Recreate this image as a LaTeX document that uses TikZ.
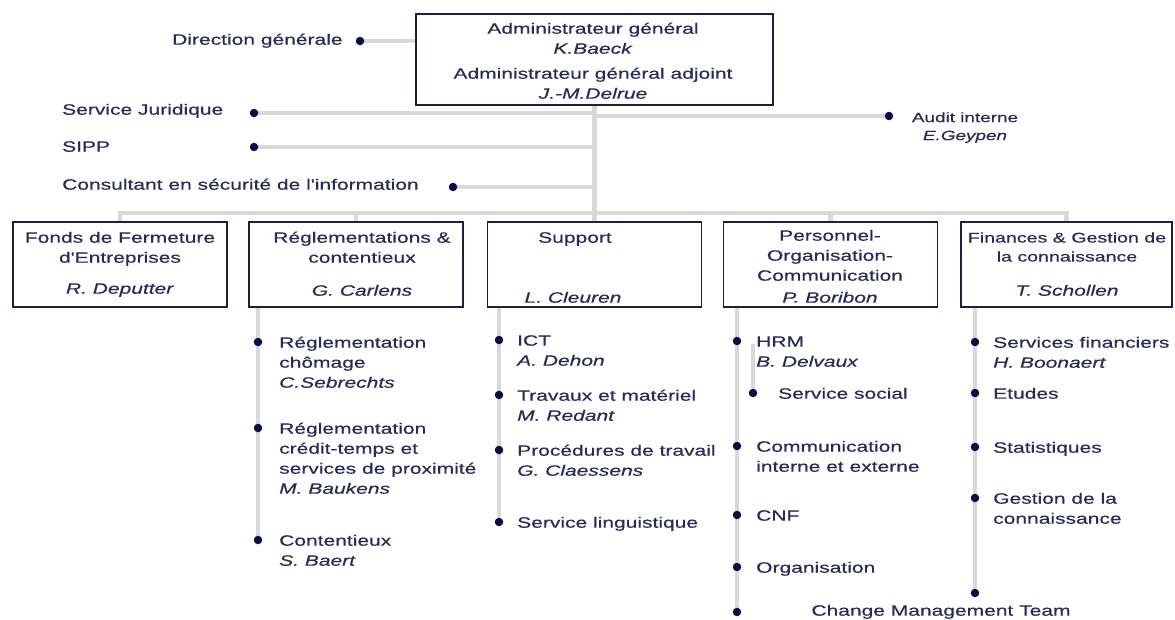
\documentclass[tikz,border=0pt]{standalone}
\usepackage{fontspec}
\setmainfont{Liberation Sans}[FakeStretch=1.4, FakeBold=0.5, Ligatures=TeXOff]
\usetikzlibrary{backgrounds}
\definecolor{txtc}{HTML}{2A2A55}
\definecolor{dotc}{HTML}{0B0B45}
\definecolor{linec}{HTML}{D9D9D9}
\definecolor{boxc}{HTML}{1E1E40}
\newcommand\mysize{\fontsize{15}{20}\selectfont}
\newcommand\mysmall{\fontsize{13.5}{18}\selectfont}
\newcommand\myboxsize{\fontsize{14}{19}\selectfont}
\begin{document}
\begin{tikzpicture}[x=1pt,y=-1pt,
  txt/.style={font=\mysize, text=txtc, inner sep=0pt, anchor=north west, align=left},
  ctxt/.style={font=\mysize, text=txtc, inner sep=0pt, anchor=north, align=center},
  dot/.style={circle, fill=dotc, inner sep=0pt, minimum size=8.5pt},
  conn/.style={draw=linec, line width=4.5pt},
  box/.style={draw=boxc, line width=1.5pt, inner sep=0pt, minimum height=85pt}]
\useasboundingbox (0,0) rectangle (1175,619);

% top box
\node[draw=boxc, line width=1.5pt, inner sep=0pt, minimum width=357pt, minimum height=91pt] (top) at (594.5,59.5) {};
\node[ctxt] (adm) at (593,19.5) {\strut Administrateur général\\\textit{K.Baeck}};
\node[ctxt] (adj) at (593,64.5) {\strut Administrateur général adjoint\\\textit{J.-M.Delrue}};
\coordinate (bus) at (594.5,213);

% staff labels
\node[txt] (lDG) at (172,30.5) {\strut Direction générale};
\node[dot] (dDG) at (360,41) {};
\node[txt] (lSJ) at (62,100.5) {\strut Service Juridique};
\node[dot] (dSJ) at (254,113) {};
\node[txt] (lSIPP) at (62,137.5) {\strut SIPP};
\node[dot] (dSIPP) at (254,147) {};
\node[txt] (lCS) at (62,175.5) {\strut Consultant en sécurité de l'information};
\node[dot] (dCS) at (453,187) {};
\node[dot] (dAud) at (889,116) {};
\node[ctxt, font=\mysmall] (lAud) at (965,109.3) {\strut Audit interne\\\textit{E.Geypen}};

% department boxes
\node[box, minimum width=214pt] (b1) at (120,264.5) {};
\node[box, minimum width=214pt] (b2) at (356,264.5) {};
\node[box, minimum width=214pt] (b3) at (594.5,264.5) {};
\node[box, minimum width=214pt] (b4) at (830.5,264.5) {};
\node[box, minimum width=211pt] (b5) at (1066.5,264.5) {};

\node[ctxt] (t1) at (120,228.5) {\strut Fonds de Fermeture\\d'Entreprises};
\node[ctxt] (n1) at (120,279.5) {\strut\textit{R. Deputter}};
\node[ctxt] (t2) at (362,228.5) {\strut Réglementations \&\\contentieux};
\node[ctxt] (n2) at (362,281.5) {\strut\textit{G. Carlens}};
\node[ctxt] (t3) at (575,228.5) {\strut Support};
\node[ctxt] (n3) at (573,288.5) {\strut\textit{L. Cleuren}};
\node[ctxt] (t4) at (830,226.5) {\strut Personnel-\\Organisation-\\Communication};
\node[ctxt] (n4) at (830,288.5) {\strut\textit{P. Boribon}};
\node[ctxt, font=\myboxsize] (t5) at (1067,229) {\strut Finances \& Gestion de\\la connaissance};
\node[ctxt] (n5) at (1067,281.5) {\strut\textit{T. Schollen}};

% column 2
\node[dot] (d21) at (258,342) {};
\node[dot] (d22) at (258,428) {};
\node[dot] (d23) at (258,540) {};
\node[txt] (i21) at (279,333.5) {\strut Réglementation\\chômage\\\textit{C.Sebrechts}};
\node[txt] (i22) at (279,419.5) {\strut Réglementation\\crédit-temps et\\services de proximité\\\textit{M. Baukens}};
\node[txt] (i23) at (279,531.5) {\strut Contentieux\\\textit{S. Baert}};

% column 3
\node[dot] (d31) at (499,340) {};
\node[dot] (d32) at (499,395) {};
\node[dot] (d33) at (499,450) {};
\node[dot] (d34) at (499,522) {};
\node[txt] (i31) at (517,331.5) {\strut ICT\\\textit{A. Dehon}};
\node[txt] (i32) at (517,386.5) {\strut Travaux et matériel\\\textit{M. Redant}};
\node[txt] (i33) at (517,441.5) {\strut Procédures de travail\\\textit{G. Claessens}};
\node[txt] (i34) at (517,513.5) {\strut Service linguistique};

% column 4
\node[dot] (d41) at (737,341) {};
\node[dot] (d4s) at (753,393) {};
\node[dot] (d43) at (737,446) {};
\node[dot] (d44) at (737,515) {};
\node[dot] (d45) at (737,567) {};
\node[dot] (d46) at (737,612) {};
\node[txt] (i41) at (756,332.5) {\strut HRM\\\textit{B. Delvaux}};
\node[txt] (i4s) at (778,384.5) {\strut Service social};
\node[txt] (i43) at (756,437.5) {\strut Communication\\interne et externe};
\node[txt] (i44) at (756,506.5) {\strut CNF};
\node[txt] (i45) at (756,558.5) {\strut Organisation};
\node[ctxt] (cmt) at (941,601.5) {\strut Change Management Team};

% column 5
\node[dot] (d51) at (975,342) {};
\node[dot] (d52) at (975,393) {};
\node[dot] (d53) at (975,447) {};
\node[dot] (d54) at (975,498) {};
\node[dot] (d55) at (975,593) {};
\node[txt] (i51) at (993,333.5) {\strut Services financiers\\\textit{H. Boonaert}};
\node[txt] (i52) at (993,384.5) {\strut Etudes};
\node[txt] (i53) at (993,438.5) {\strut Statistiques};
\node[txt] (i54) at (993,489.5) {\strut Gestion de la\\connaissance};

\begin{pgfonlayer}{background}
\draw[conn] (top.south) -- (bus);
\draw[conn] (b1.north) |- (bus) -| (b5.north);
\draw[conn] (b2.north) -- (b2.north |- bus);
\draw[conn] (b3.north) -- (bus);
\draw[conn] (b4.north) -- (b4.north |- bus);
\draw[conn] (dDG) -- (dDG -| top.west);
\draw[conn] (dSJ) -- (dSJ -| bus);
\draw[conn] (dSIPP) -- (dSIPP -| bus);
\draw[conn] (dCS) -- (dCS -| bus);
\draw[conn] (dAud -| bus) -- (dAud);
\draw[conn] (d21 |- b2.south) -- (d23);
\draw[conn] (d31 |- b3.south) -- (d34);
\draw[conn] (d41 |- b4.south) -- (d46);
\draw[conn] ([yshift=-3pt]d41 -| d4s) -- (d4s);
\draw[conn] (d51 |- b5.south) -- (d55);
\end{pgfonlayer}
\end{tikzpicture}
\end{document}
